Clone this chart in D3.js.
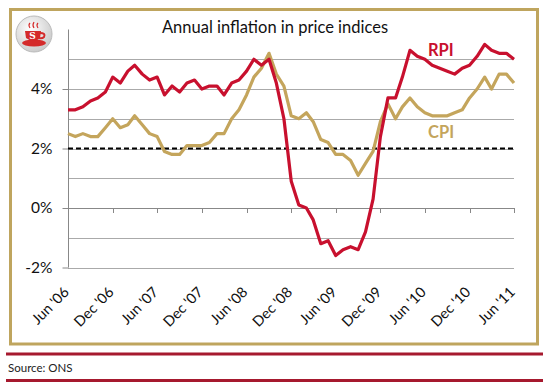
<!DOCTYPE html>
<html>
<head>
<meta charset="utf-8">
<script src="https://cdn.jsdelivr.net/npm/d3@7"></script>
<style>
  body { margin: 0; background: #fff; }
  svg { display: block; font-family: Lato, "Open Sans", sans-serif; }
</style>
</head>
<body>
<div id="chart"></div>
<script>
"use strict";

// months, Jun '06 .. Jun '11
var months = d3.range(61).map(i => new Date(2006, 5 + i, 1));
var tickLabels = ["Jun '06", "Dec '06", "Jun '07", "Dec '07", "Jun '08", "Dec '08",
    "Jun '09", "Dec '09", "Jun '10", "Dec '10", "Jun '11"];

// annual rates, %
var rpi = [3.3, 3.3, 3.4, 3.6, 3.7, 3.9, 4.4, 4.2, 4.6, 4.8, 4.5, 4.3, 4.4, 3.8, 4.1, 3.9,
    4.2, 4.3, 4.0, 4.1, 4.1, 3.8, 4.2, 4.3, 4.6, 5.0, 4.8, 5.0, 4.2, 3.0, 0.9, 0.1, 0.0,
    -0.4, -1.2, -1.1, -1.6, -1.4, -1.3, -1.4, -0.8, 0.3, 2.4, 3.7, 3.7, 4.4, 5.3, 5.1, 5.0,
    4.8, 4.7, 4.6, 4.5, 4.7, 4.8, 5.1, 5.5, 5.3, 5.2, 5.2, 5.0];
var cpi = [2.5, 2.4, 2.5, 2.4, 2.4, 2.7, 3.0, 2.7, 2.8, 3.1, 2.8, 2.5, 2.4, 1.9, 1.8, 1.8,
    2.1, 2.1, 2.1, 2.2, 2.5, 2.5, 3.0, 3.3, 3.8, 4.4, 4.7, 5.2, 4.5, 4.1, 3.1, 3.0, 3.2,
    2.9, 2.3, 2.2, 1.8, 1.8, 1.6, 1.1, 1.5, 1.9, 2.9, 3.5, 3.0, 3.4, 3.7, 3.4, 3.2, 3.1,
    3.1, 3.1, 3.2, 3.3, 3.7, 4.0, 4.4, 4.0, 4.5, 4.5, 4.2];
var target = 2;

var W = 549, H = 389;
var red = "#c8102e", gold = "#c4a55c";

var svg = d3.select("#chart").append("svg")
    .attr("width", W)
    .attr("height", H);

// gold frame
svg.append("rect")
    .attr("x", 10.5).attr("y", 9.5)
    .attr("width", 527).attr("height", 334.5)
    .attr("fill", "none")
    .attr("stroke", "#bfa55e")
    .attr("stroke-width", 3);

// footer
svg.selectAll(".rule")
    .data([354, 380.5])
    .join("line")
    .attr("x1", 6).attr("x2", 543)
    .attr("y1", d => d).attr("y2", d => d)
    .attr("stroke", "#a6192e")
    .attr("stroke-width", 3);

svg.append("text")
    .attr("x", 8).attr("y", 372)
    .attr("font-size", 11.5)
    .attr("fill", "#222")
    .text("Source: ONS");

// logo
var defs = svg.append("defs");
var grad = defs.append("radialGradient").attr("id", "logoGrad")
    .attr("cx", "40%").attr("cy", "35%").attr("r", "70%");
grad.append("stop").attr("offset", "0%").attr("stop-color", "#ffffff");
grad.append("stop").attr("offset", "100%").attr("stop-color", "#c8c8c8");

var logo = svg.append("g").attr("transform", "translate(34,34)");
logo.append("circle").attr("r", 18).attr("fill", "url(#logoGrad)")
    .attr("stroke", "#bbb").attr("stroke-width", 1);
logo.append("ellipse").attr("cx", 0).attr("cy", 9).attr("rx", 12).attr("ry", 3.5)
    .attr("fill", "#d42a2a");
logo.append("path")
    .attr("d", "M-9,-3 L7,-3 L6,4 Q0,10 -8,4 Z")
    .attr("fill", "#d42a2a");
logo.append("path")
    .attr("d", "M6,-1 Q12,-1 10,3 Q8,5 5,4")
    .attr("fill", "none").attr("stroke", "#d42a2a").attr("stroke-width", 2);
logo.append("path")
    .attr("d", "M-4,-6 q-2,-3 0,-5 M0,-6 q-2,-3 0,-6 M4,-6 q-2,-3 0,-5")
    .attr("fill", "none").attr("stroke", "#d42a2a").attr("stroke-width", 1.2);
logo.append("text").attr("x", -1.5).attr("y", 4.5)
    .attr("text-anchor", "middle")
    .attr("font-family", "'DejaVu Serif', serif")
    .attr("font-weight", "bold")
    .attr("font-size", 9).attr("fill", "#fff")
    .text("S");

// title
svg.append("text")
    .attr("x", 275).attr("y", 32.5)
    .attr("text-anchor", "middle")
    .attr("font-size", 16.5)
    .attr("fill", "#111")
    .text("Annual inflation in price indices");

// scales
var x = d3.scaleTime()
    .domain([months[0], months[60]])
    .range([68, 514]);

var y = d3.scaleLinear()
    .domain([-2, 6])
    .range([267.5, 29.5]);

// gridlines every 1%
svg.append("g")
    .selectAll("line")
    .data(d3.range(-2, 6))
    .join("line")
    .attr("x1", 68).attr("x2", 514)
    .attr("y1", d => Math.round(y(d)) + 0.5)
    .attr("y2", d => Math.round(y(d)) + 0.5)
    .attr("stroke", d => d === 0 ? "#888" : "#aaa")
    .attr("stroke-width", 1);

// y axis
var yAxis = svg.append("g")
    .attr("transform", "translate(68.5,0)")
    .call(d3.axisLeft(y).tickValues([-2, 0, 2, 4]).tickSize(6).tickPadding(10)
        .tickFormat(d => d + "%"));
yAxis.select(".domain").attr("stroke", "#888").attr("d", "M0,29.5V267.5");
yAxis.selectAll(".tick line").attr("stroke", "#888");
yAxis.selectAll(".tick text")
    .attr("font-family", "Lato, sans-serif")
    .attr("font-size", 15.5)
    .attr("fill", "#111");

// x ticks sit on the 0% line
var tickMonths = d3.range(0, 61, 6).map(i => months[i]);
svg.append("g")
    .selectAll("line")
    .data(tickMonths)
    .join("line")
    .attr("x1", d => Math.round(x(d)) + 0.5)
    .attr("x2", d => Math.round(x(d)) + 0.5)
    .attr("y1", Math.round(y(0)))
    .attr("y2", Math.round(y(0)) + 5)
    .attr("stroke", "#888");

// x labels at bottom, rotated
svg.append("g")
    .selectAll("text")
    .data(tickMonths)
    .join("text")
    .attr("transform", d => `translate(${x(d) + 2},${y(-2) + 25.5}) rotate(-45)`)
    .attr("text-anchor", "end")
    .attr("font-size", 14.5)
    .attr("fill", "#111")
    .text((d, i) => tickLabels[i]);

// 2% target
svg.append("line")
    .attr("x1", 68).attr("x2", 514)
    .attr("y1", y(target)).attr("y2", y(target))
    .attr("stroke", "#000")
    .attr("stroke-width", 2)
    .attr("stroke-dasharray", "5,3");

// lines
var line = d3.line()
    .x((d, i) => x(months[i]))
    .y(d => y(d));

svg.append("path")
    .datum(cpi)
    .attr("fill", "none")
    .attr("stroke", gold)
    .attr("stroke-width", 3.2)
    .attr("stroke-linejoin", "round")
    .attr("d", line);

svg.append("path")
    .datum(rpi)
    .attr("fill", "none")
    .attr("stroke", red)
    .attr("stroke-width", 3.2)
    .attr("stroke-linejoin", "round")
    .attr("d", line);

// labels
svg.append("text")
    .attr("x", 428).attr("y", 56)
    .attr("font-size", 16.5).attr("font-weight", "bold")
    .attr("fill", red)
    .text("RPI");

svg.append("text")
    .attr("x", 428).attr("y", 138)
    .attr("font-size", 16.5).attr("font-weight", "bold")
    .attr("fill", gold)
    .text("CPI");
</script>
</body>
</html>
